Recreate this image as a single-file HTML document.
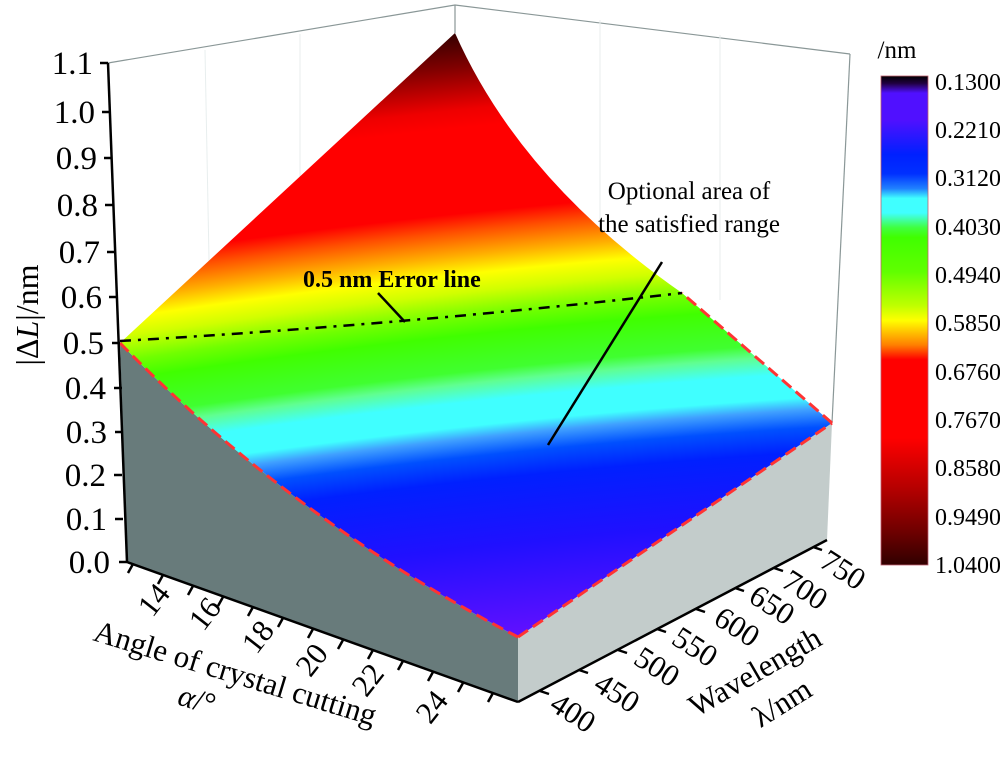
<!DOCTYPE html>
<html><head><meta charset="utf-8"><style>
html,body{margin:0;padding:0;background:#fff;}
svg{display:block;font-family:"Liberation Serif",serif;}
</style></head><body>
<svg width="1000" height="761" viewBox="0 0 1000 761" xmlns="http://www.w3.org/2000/svg">
<defs>
<radialGradient id="surf" gradientUnits="userSpaceOnUse" cx="1282" cy="7988" r="8000" fx="1282" fy="7988">
<stop offset="0.9241" stop-color="#6010ff"/>
<stop offset="0.93549" stop-color="#2010ff"/>
<stop offset="0.94384" stop-color="#0020ff"/>
<stop offset="0.94687" stop-color="#0050ff"/>
<stop offset="0.94915" stop-color="#40a0ff"/>
<stop offset="0.95067" stop-color="#40ffff"/>
<stop offset="0.95370" stop-color="#40ffff"/>
<stop offset="0.95598" stop-color="#60ff90"/>
<stop offset="0.95750" stop-color="#40ff30"/>
<stop offset="0.96205" stop-color="#40ff00"/>
<stop offset="0.96433" stop-color="#70ff00"/>
<stop offset="0.96736" stop-color="#d0ff00"/>
<stop offset="0.96964" stop-color="#ffff00"/>
<stop offset="0.97192" stop-color="#ffb000"/>
<stop offset="0.97496" stop-color="#ff5000"/>
<stop offset="0.97723" stop-color="#ff0000"/>
<stop offset="0.98786" stop-color="#ff0000"/>
<stop offset="0.99013" stop-color="#ee0000"/>
<stop offset="0.99545" stop-color="#800000"/>
<stop offset="1" stop-color="#300000"/>
</radialGradient>
<linearGradient id="cbar" x1="0" y1="0" x2="0" y2="1">
<stop offset="0" stop-color="#000000"/>
<stop offset="0.015" stop-color="#200040"/>
<stop offset="0.035" stop-color="#5010ff"/>
<stop offset="0.09" stop-color="#5010ff"/>
<stop offset="0.16" stop-color="#0020ff"/>
<stop offset="0.20" stop-color="#0030ff"/>
<stop offset="0.23" stop-color="#2080ff"/>
<stop offset="0.25" stop-color="#40ffff"/>
<stop offset="0.28" stop-color="#40ffff"/>
<stop offset="0.31" stop-color="#40ff40"/>
<stop offset="0.33" stop-color="#40ff00"/>
<stop offset="0.40" stop-color="#60ff00"/>
<stop offset="0.47" stop-color="#c0ff00"/>
<stop offset="0.50" stop-color="#ffff00"/>
<stop offset="0.55" stop-color="#ff8000"/>
<stop offset="0.58" stop-color="#ff0000"/>
<stop offset="0.74" stop-color="#ff0000"/>
<stop offset="0.85" stop-color="#b00000"/>
<stop offset="0.93" stop-color="#700000"/>
<stop offset="1" stop-color="#300000"/>
</linearGradient>
</defs>

<g stroke="#8a9797" stroke-width="1.2" fill="none">
<polyline points="108,63 455,5 850,54"/>
<line x1="455" y1="5" x2="455" y2="33"/>
<line x1="850" y1="54" x2="832" y2="423"/>
</g>
<g stroke="#e8eeee" stroke-width="1" fill="none">
<line x1="205" y1="50" x2="214" y2="520"/>
<line x1="300" y1="34" x2="300" y2="360"/>
<line x1="600" y1="20" x2="600" y2="260"/>
<line x1="720" y1="35" x2="720" y2="300"/>
</g>

<path d="M120,343 Q295,522 518,637 L518,702 L127,562 Z" fill="#687b7b"/>
<path d="M518,637 L832,423 L827,540 L518,702 Z" fill="#c3cccb"/>

<path d="M120,343 L455,33 Q520,180 682,293 L832,423 L518,637 Q295,522 120,343 Z" fill="url(#surf)"/>

<g stroke="#ff3333" stroke-width="3" fill="none" stroke-dasharray="12 6">
<path d="M120,343 Q295,522 518,637"/>
<path d="M518,637 L832,423"/>
<path d="M832,423 L682,293"/>
</g>

<path d="M120,341 Q400,325 682,293" stroke="#000" stroke-width="2.5" fill="none" stroke-dasharray="11 7 3 7"/>
<line x1="378" y1="293" x2="405" y2="322" stroke="#000" stroke-width="2.5"/>
<text x="303" y="287" font-size="24" font-weight="bold">0.5 nm Error line</text>

<text x="689" y="199" font-size="25" text-anchor="middle">Optional area of</text>
<text x="689" y="232" font-size="25" text-anchor="middle">the satisfied range</text>
<line x1="662" y1="262" x2="548" y2="445" stroke="#000" stroke-width="2.5"/>

<line x1="108" y1="63" x2="127" y2="562" stroke="#000" stroke-width="2.5"/>
<g stroke="#000" stroke-width="2.5">
<line x1="100" y1="63" x2="108" y2="63"/>
<line x1="102" y1="112" x2="110" y2="112"/>
<line x1="104" y1="158" x2="112" y2="158"/>
<line x1="105" y1="205" x2="113" y2="205"/>
<line x1="107" y1="252" x2="115" y2="252"/>
<line x1="109" y1="297" x2="117" y2="297"/>
<line x1="112" y1="343" x2="120" y2="343"/>
<line x1="114" y1="388" x2="122" y2="388"/>
<line x1="115" y1="432" x2="123" y2="432"/>
<line x1="114" y1="475" x2="122" y2="475"/>
<line x1="115" y1="519" x2="123" y2="519"/>
<line x1="119" y1="562" x2="127" y2="562"/>
</g>
<g font-size="33" text-anchor="end">
<text x="93" y="74">1.1</text>
<text x="95" y="123">1.0</text>
<text x="97" y="169">0.9</text>
<text x="98" y="216">0.8</text>
<text x="100" y="263">0.7</text>
<text x="102" y="308">0.6</text>
<text x="104" y="354">0.5</text>
<text x="106" y="399">0.4</text>
<text x="107" y="443">0.3</text>
<text x="106" y="486">0.2</text>
<text x="107" y="530">0.1</text>
<text x="110" y="573">0.0</text>
</g>
<text transform="translate(38,315) rotate(-90)" font-size="32" text-anchor="middle">|Δ<tspan font-style="italic">L</tspan>|/nm</text>

<line x1="127" y1="562" x2="518" y2="702" stroke="#000" stroke-width="2.5"/>
<line x1="518" y1="702" x2="827" y2="540" stroke="#000" stroke-width="2.5"/>
<g stroke="#000" stroke-width="2.5">
<line x1="133" y1="564" x2="128" y2="573"/>
<line x1="163" y1="575" x2="158" y2="584"/>
<line x1="193" y1="586" x2="188" y2="595"/>
<line x1="223" y1="597" x2="218" y2="606"/>
<line x1="253" y1="607" x2="248" y2="616"/>
<line x1="283" y1="618" x2="278" y2="627"/>
<line x1="313" y1="629" x2="308" y2="638"/>
<line x1="343" y1="640" x2="338" y2="649"/>
<line x1="373" y1="650" x2="368" y2="659"/>
<line x1="403" y1="661" x2="398" y2="670"/>
<line x1="433" y1="672" x2="428" y2="681"/>
<line x1="463" y1="683" x2="458" y2="692"/>
<line x1="493" y1="693" x2="488" y2="702"/>
</g>
<g stroke="#000" stroke-width="2.5">
<line x1="540" y1="691" x2="549" y2="694"/>
<line x1="579" y1="670" x2="588" y2="673"/>
<line x1="618" y1="650" x2="627" y2="653"/>
<line x1="657" y1="629" x2="666" y2="632"/>
<line x1="696" y1="609" x2="705" y2="612"/>
<line x1="735" y1="588" x2="744" y2="591"/>
<line x1="774" y1="568" x2="783" y2="571"/>
<line x1="813" y1="547" x2="822" y2="550"/>
</g>

<g font-size="31" text-anchor="middle">
<text transform="translate(154,600) rotate(-52)" dy="10">14</text>
<text transform="translate(205,614) rotate(-52)" dy="10">16</text>
<text transform="translate(258,637) rotate(-52)" dy="10">18</text>
<text transform="translate(312,660) rotate(-52)" dy="10">20</text>
<text transform="translate(368,680) rotate(-52)" dy="10">22</text>
<text transform="translate(432,707) rotate(-52)" dy="10">24</text>
</g>
<text transform="translate(92,640) rotate(17)" font-size="31">Angle of crystal cutting</text>
<text transform="translate(197,700) rotate(17)" font-size="31" text-anchor="middle" dy="10"><tspan font-style="italic">α</tspan>/°</text>

<g font-size="31" text-anchor="middle">
<text transform="translate(573,713) rotate(33)" dy="10">400</text>
<text transform="translate(617,693) rotate(33)" dy="10">450</text>
<text transform="translate(657,667) rotate(33)" dy="10">500</text>
<text transform="translate(695,647) rotate(33)" dy="10">550</text>
<text transform="translate(737,627) rotate(33)" dy="10">600</text>
<text transform="translate(772,605) rotate(33)" dy="10">650</text>
<text transform="translate(805,590) rotate(33)" dy="10">700</text>
<text transform="translate(843,570) rotate(33)" dy="10">750</text>
</g>
<text transform="translate(755,672) rotate(-30)" font-size="31" text-anchor="middle" dy="10">Wavelength</text>
<text transform="translate(782,703) rotate(-32)" font-size="31" text-anchor="middle" dy="10">λ/nm</text>

<text x="897" y="58" font-size="25" text-anchor="middle">/nm</text>
<rect x="881" y="76" width="47" height="489" fill="url(#cbar)" stroke="#c06070" stroke-width="0.8"/>
<g font-size="24">
<text x="935" y="90">0.1300</text>
<text x="935" y="138">0.2210</text>
<text x="935" y="186">0.3120</text>
<text x="935" y="235">0.4030</text>
<text x="935" y="283">0.4940</text>
<text x="935" y="331">0.5850</text>
<text x="935" y="380">0.6760</text>
<text x="935" y="428">0.7670</text>
<text x="935" y="476">0.8580</text>
<text x="935" y="525">0.9490</text>
<text x="935" y="573">1.0400</text>
</g>
</svg>
</body></html>
